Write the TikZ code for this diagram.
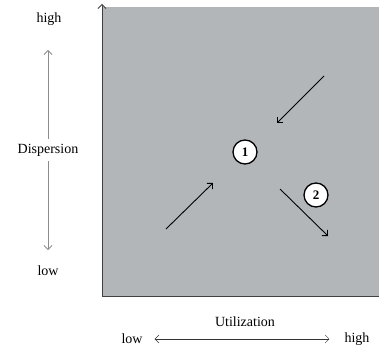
\documentclass[tikz,border=0pt]{standalone}
\usepackage{fontspec}
\setmainfont{Liberation Serif}
\usetikzlibrary{arrows.meta}
\definecolor{grisfondo}{RGB}{178,182,185}
\definecolor{grislinea}{RGB}{140,140,140}
\begin{document}
\begin{tikzpicture}[x=1pt, y=-1pt, font=\fontsize{14}{16}\selectfont,
    >={Straight Barb[length=4pt, width=8pt]},
    etiqueta/.style={inner sep=2pt},
    marca/.style={circle, draw, line width=1.3pt, fill=white, inner sep=0pt, minimum size=24pt, font=\fontsize{13}{15}\selectfont\bfseries},
    flecha/.style={->, line width=0.9pt}]
    \useasboundingbox (0,0) rectangle (379,347);

    % Fondo gris y ejes del cuadrante
    \fill[grisfondo] (102,7) rectangle (379,296);
    \draw[->, thick, black!75] (102,296) -- (102,4);
    \draw[thick, black!75] (102,296) -- (379,296);

    % Eje vertical: dispersion
    \node[etiqueta] (dhigh) at (49,19) {high};
    \node[etiqueta, inner sep=5pt] (disp) at (48,150) {Dispersion};
    \node[etiqueta] (dlow) at (48,271) {low};
    \coordinate (dtop) at (48,50);
    \coordinate (dbot) at (48,250);
    \draw[->, grislinea, thick] (disp) -- (dtop);
    \draw[->, grislinea, thick] (disp) -- (dbot);

    % Eje horizontal: utilizacion
    \node[etiqueta] (util) at (245,322) {Utilization};
    \node[etiqueta] (ulow) at (132,339) {low};
    \node[etiqueta] (uhigh) at (357,339) {high};
    \draw[<->, black!80, shorten <=10pt, shorten >=13pt] (ulow) -- (uhigh);

    % Posiciones marcadas
    \node[marca] (p1) at (245,152) {1};
    \node[marca] (p2) at (316,195) {2};

    % Movimientos
    \coordinate (a1) at (324,76);  \coordinate (b1) at (277,123);
    \coordinate (a2) at (166,229); \coordinate (b2) at (213,183);
    \coordinate (a3) at (280,189); \coordinate (b3) at (328,236);
    \draw[flecha] (a1) -- (b1);
    \draw[flecha] (a2) -- (b2);
    \draw[flecha] (a3) -- (b3);

\end{tikzpicture}
\end{document}
